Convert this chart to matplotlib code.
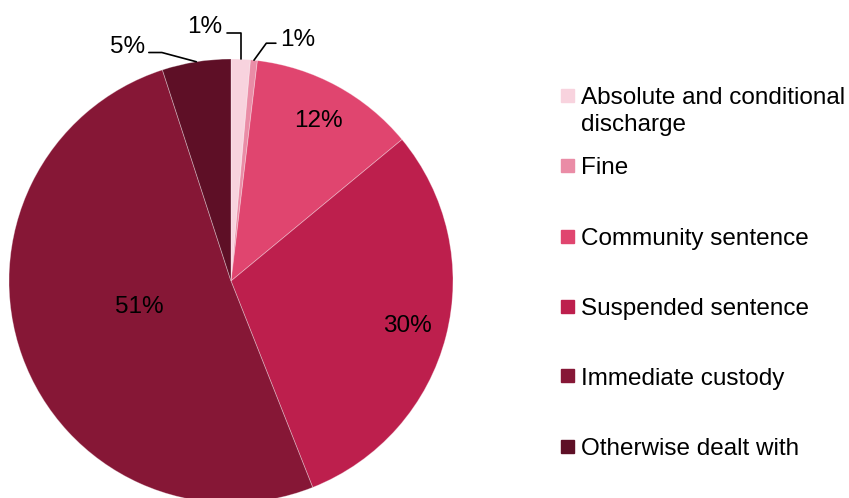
import matplotlib.pyplot as plt
import numpy as np

plt.rcParams['font.family'] = ['Liberation Sans', 'DejaVu Sans']

# sentence outcomes (share of offenders, %)
categories = ['Absolute and conditional\ndischarge', 'Fine', 'Community sentence',
              'Suspended sentence', 'Immediate custody', 'Otherwise dealt with']
values = [1.4, 0.5, 12.1, 30.0, 51.0, 5.0]
pct_labels = ['1%', '1%', '12%', '30%', '51%', '5%']
colors = ['#F8D3DE', '#EA8CA6', '#E0456F', '#BD1F4D', '#861736', '#5E0F26']

fig = plt.figure(figsize=(8.49, 4.98), dpi=100)
ax = fig.add_axes([9 / 849, -5 / 498, 444 / 849, 444 / 498])

wedges, _ = ax.pie(values, colors=colors, startangle=90, counterclock=False,
                   wedgeprops=dict(edgecolor=(1, 1, 1, 0.35), linewidth=0.6))
ax.set_xlim(-1, 1)
ax.set_ylim(-1, 1)
ax.set_aspect('equal')
ax.axis('off')

fs = 17.5

# labels inside the bigger slices (distance, angle nudge in degrees)
inside = {2: (0.82, 0), 3: (0.82, 0), 4: (0.43, -3.8)}
for i, (dist, nudge) in inside.items():
    w = wedges[i]
    mid = np.deg2rad((w.theta1 + w.theta2) / 2 + nudge)
    ax.text(dist * np.cos(mid), dist * np.sin(mid), pct_labels[i],
            ha='center', va='center', fontsize=fs, color='black')

# small slices with leader lines
outside = {
    0: ((-0.117, 1.144), 'angle,angleA=0,angleB=90,rad=0', (1, 0.22)),
    1: ((0.30, 1.086), 'angle,angleA=0,angleB=54,rad=0', (0, 0.35)),
    5: ((-0.468, 1.054), 'angle,angleA=0,angleB=-15,rad=0', (1, 0.25)),
}
for i, (txt_xy, cstyle, rel) in outside.items():
    w = wedges[i]
    mid = np.deg2rad((w.theta1 + w.theta2) / 2)
    ax.annotate(pct_labels[i], xy=(np.cos(mid), np.sin(mid)), xytext=txt_xy,
                ha='center', va='center', fontsize=fs, annotation_clip=False,
                arrowprops=dict(arrowstyle='-', color='black', lw=1.2,
                                connectionstyle=cstyle, relpos=rel,
                                shrinkA=1, shrinkB=0))

# legend drawn by hand so the marker sits on the first text line
for i, (lab, col) in enumerate(zip(categories, colors)):
    y = 1 - (96 + i * 70.0) / 498
    fig.patches.append(plt.Rectangle((561 / 849, y - 6.5 / 498), 13 / 849, 13 / 498,
                                     transform=fig.transFigure, color=col))
    for k, line in enumerate(lab.split('\n')):
        fig.text(581 / 849, y - k * 26 / 498, line, fontsize=fs,
                 va='center_baseline', ha='left')

plt.savefig('out.png', dpi=100)
